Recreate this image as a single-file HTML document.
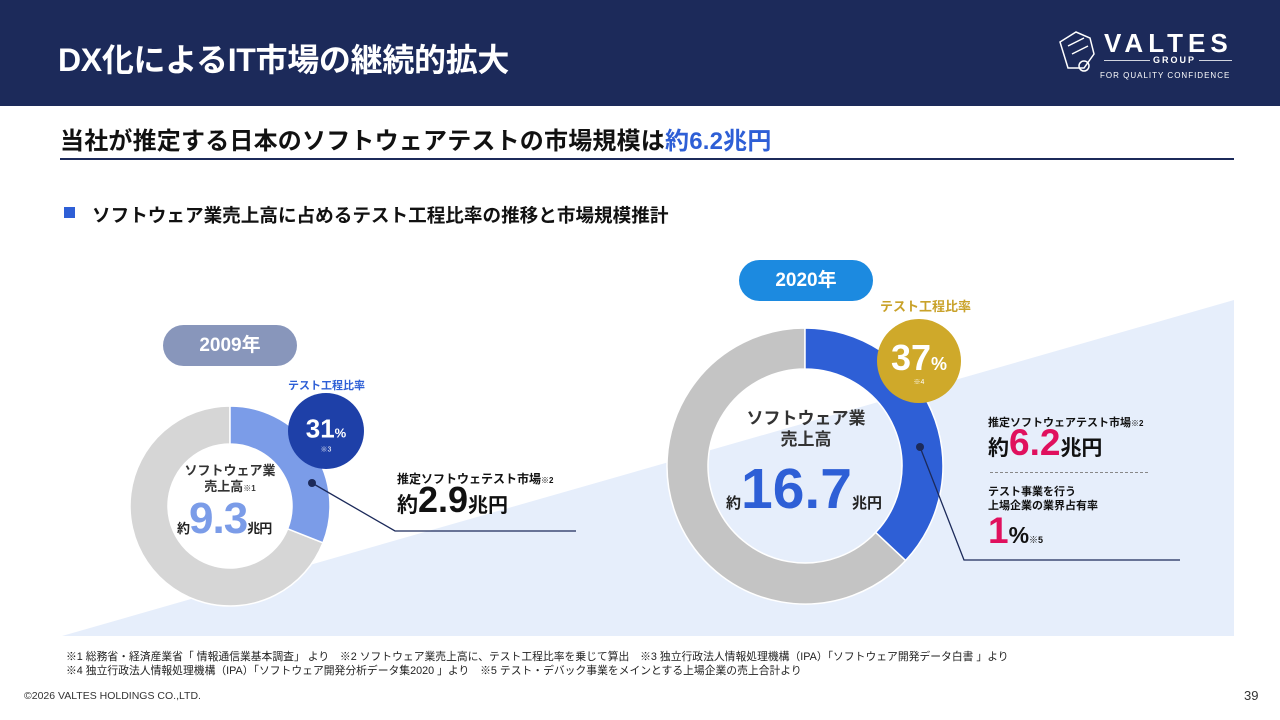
<!DOCTYPE html>
<html><head><meta charset="utf-8">
<style>
*{margin:0;padding:0;box-sizing:border-box}
body{width:1280px;height:720px;overflow:hidden;background:#fff;position:relative;font-family:"Liberation Sans","Noto Sans CJK JP",sans-serif;color:#111}
.abs{position:absolute;white-space:nowrap}
b,.b{font-weight:bold}
</style></head><body>
<div class="abs" style="left:0;top:0;width:1280px;height:106px;background:#1c2a5a"></div>
<div class="abs b" style="left:58px;top:35px;font-size:32px;color:#fff;letter-spacing:-0.3px">DX化によるIT市場の継続的拡大</div>
<div class="abs" style="left:1054px;top:28px;width:180px;height:56px">
  <svg width="44" height="46" style="position:absolute;left:0;top:0"><g fill="none" stroke="#fff" stroke-width="1.5"><path d="M6 14 L22 4 L36 10 L40 26 L30 40 L14 40 Z"/><path d="M14 18 L30 10 M18 26 L34 18"/><circle cx="30" cy="38" r="5"/></g></svg>
  <div class="abs b" style="left:50px;top:0;font-size:26px;color:#fff;letter-spacing:5px">VALTES</div>
  <div class="abs" style="left:50px;top:32px;width:128px;height:1px;background:#fff;opacity:.8"></div>
  <div class="abs b" style="left:96px;top:27px;font-size:9px;color:#fff;letter-spacing:2px;background:#1c2a5a;padding:0 3px">GROUP</div>
  <div class="abs" style="left:46px;top:43px;font-size:8px;color:#fff;letter-spacing:1px">FOR QUALITY CONFIDENCE</div>
</div>
<div class="abs b" style="left:60px;top:121px;font-size:24px;color:#111;letter-spacing:0.2px">当社が推定する日本のソフトウェアテストの市場規模は<span style="color:#2e5fd6">約6.2兆円</span></div>
<div class="abs" style="left:60px;top:158px;width:1174px;height:2px;background:#1c2a5a"></div>
<div class="abs" style="left:64px;top:207px;width:11px;height:11px;background:#2e5fd6"></div>
<div class="abs b" style="left:92px;top:201px;font-size:18.6px">ソフトウェア業売上高に占めるテスト工程比率の推移と市場規模推計</div>

<svg class="abs" id="chart" width="1280" height="720" style="left:0;top:0">
  <polygon points="62,636 1234,300 1234,636" fill="#e6eefb"/>
</svg>

<div class="abs b" style="left:163px;top:325px;width:134px;height:41px;border-radius:21px;background:#8896bb;color:#fff;font-size:19px;text-align:center;line-height:41px">2009年</div>
<div class="abs b" style="left:739px;top:260px;width:134px;height:41px;border-radius:21px;background:#1c8ae0;color:#fff;font-size:19px;text-align:center;line-height:41px">2020年</div>

<div class="abs b" style="left:288px;top:377px;font-size:11px;color:#2e5fd6">テスト工程比率</div>
<div class="abs b" style="left:880px;top:296px;font-size:13px;color:#c9a22a">テスト工程比率</div>

<div class="abs b" style="left:170px;top:463px;width:120px;text-align:center;font-size:13px;color:#333;line-height:16px">ソフトウェア業<br>売上高<span style="font-size:8px">※1</span></div>
<div class="abs b" style="left:177px;top:494px;font-size:44px;color:#7b9ce8;letter-spacing:-1px"><span style="font-size:13px;color:#222">約</span>9.3<span style="font-size:13px;color:#222">兆円</span></div>

<div class="abs b" style="left:726px;top:408px;width:160px;text-align:center;font-size:17px;color:#333;line-height:21px">ソフトウェア業<br>売上高</div>
<div class="abs b" style="left:726px;top:456px;font-size:57px;color:#2e5fd6;letter-spacing:0px"><span style="font-size:15px;color:#222">約</span>16.7<span style="font-size:15px;color:#222">兆円</span></div>

<div class="abs b" style="left:397px;top:470px;font-size:12px">推定ソフトウェテスト市場<span style="font-size:8px">※2</span></div>
<div class="abs b" style="left:397px;top:479px;font-size:36px"><span style="font-size:21px">約</span>2.9<span style="font-size:20px">兆円</span></div>

<div class="abs b" style="left:988px;top:414px;font-size:11px">推定ソフトウェアテスト市場<span style="font-size:8px">※2</span></div>
<div class="abs b" style="left:988px;top:422px;font-size:37px;color:#e0105e"><span style="font-size:21px;color:#111">約</span>6.2<span style="font-size:21px;color:#111">兆円</span></div>
<div class="abs" style="left:990px;top:472px;width:158px;border-top:1px dashed #888"></div>
<div class="abs b" style="left:988px;top:485px;font-size:11px;line-height:14px">テスト事業を行う<br>上場企業の業界占有率</div>
<div class="abs b" style="left:988px;top:510px;font-size:37px;color:#e0105e">1<span style="font-size:23px;color:#111">%</span><span style="font-size:9px;color:#111">※5</span></div>

<div class="abs" style="left:66px;top:650px;font-size:10.8px;line-height:14px;color:#222">※1 総務省・経済産業省「 情報通信業基本調査」 より　※2 ソフトウェア業売上高に、テスト工程比率を乗じて算出　※3 独立行政法人情報処理機構（IPA）「ソフトウェア開発データ白書 」より<br>※4 独立行政法人情報処理機構（IPA）「ソフトウェア開発分析データ集2020 」より　※5 テスト・デバック事業をメインとする上場企業の売上合計より</div>
<div class="abs" style="left:24px;top:690px;font-size:10.5px;color:#333">©2026 VALTES HOLDINGS CO.,LTD.</div>
<div class="abs" style="left:1244px;top:688px;font-size:13px;color:#333">39</div>

<script>
const years = ["2009","2020"];
const salesTrillion = [9.3, 16.7];
const testRatio = [31, 37];
const ratioNote = ["※3","※4"];

const NS = "http://www.w3.org/2000/svg";
const svg = document.getElementById("chart");
const geo = [
  {cx:230, cy:506, r:100, ri:62, seg:"#7b9ce8", rest:"#d6d6d6", badge:{x:326,y:431,r:38,c:"#1e40a8",fs:26}, dot:[312,483], line:[[312,483],[395,531],[576,531]]},
  {cx:805, cy:466, r:138, ri:97, seg:"#2e5fd6", rest:"#c4c4c4", badge:{x:919,y:361,r:42,c:"#cfa92a",fs:36}, dot:[920,447], line:[[920,447],[964,560],[1180,560]]}
];
function angleScale(pct){return pct/100*2*Math.PI;}
function pt(cx,cy,r,a){return [cx+r*Math.sin(a), cy-r*Math.cos(a)];}
function arc(g,a0,a1){
  const [x0,y0]=pt(g.cx,g.cy,g.r,a0),[x1,y1]=pt(g.cx,g.cy,g.r,a1);
  const [x2,y2]=pt(g.cx,g.cy,g.ri,a1),[x3,y3]=pt(g.cx,g.cy,g.ri,a0);
  const lg=(a1-a0)>Math.PI?1:0;
  return `M${x0},${y0} A${g.r},${g.r} 0 ${lg} 1 ${x1},${y1} L${x2},${y2} A${g.ri},${g.ri} 0 ${lg} 0 ${x3},${y3} Z`;
}
years.forEach((y,i)=>{
  const g=geo[i];
  const a=angleScale(testRatio[i]);
  const rest=document.createElementNS(NS,"path");
  rest.setAttribute("d",arc(g,a,2*Math.PI-0.0001));
  rest.setAttribute("fill",g.rest);rest.setAttribute("stroke","#fff");rest.setAttribute("stroke-width","1.5");
  
  
  svg.appendChild(rest);
  const seg=document.createElementNS(NS,"path");
  seg.setAttribute("d",arc(g,0,a));
  seg.setAttribute("fill",g.seg);seg.setAttribute("stroke","#fff");seg.setAttribute("stroke-width","1.5");
  
  
  svg.appendChild(seg);
  const pl=document.createElementNS(NS,"polyline");
  pl.setAttribute("points",g.line.map(p=>p.join(",")).join(" "));
  pl.setAttribute("fill","none");pl.setAttribute("stroke","#1c2a5a");pl.setAttribute("stroke-width","1.3");
  
  
  svg.appendChild(pl);
  const d=document.createElementNS(NS,"circle");
  d.setAttribute("cx",g.dot[0]);d.setAttribute("cy",g.dot[1]);d.setAttribute("r",4);d.setAttribute("fill","#1c2a5a");
  
  
  svg.appendChild(d);
  const b=g.badge;
  const c=document.createElementNS(NS,"circle");
  c.setAttribute("cx",b.x);c.setAttribute("cy",b.y);c.setAttribute("r",b.r);c.setAttribute("fill",b.c);
  
  
  svg.appendChild(c);
  const t=document.createElementNS(NS,"text");
  t.setAttribute("x",b.x);t.setAttribute("y",b.y+b.fs*0.25);t.setAttribute("text-anchor","middle");
  t.setAttribute("fill","#fff");t.setAttribute("font-weight","bold");t.setAttribute("font-size",b.fs);
  t.setAttribute("font-family","Liberation Sans, sans-serif");
  t.innerHTML=testRatio[i]+'<tspan font-size="'+(b.fs*0.5)+'">%</tspan>';
  
  
  svg.appendChild(t);
  const n=document.createElementNS(NS,"text");
  n.setAttribute("x",b.x);n.setAttribute("y",b.y+b.fs*0.25+14);n.setAttribute("text-anchor","middle");
  n.setAttribute("fill","#fff");n.setAttribute("font-size","7");
  n.setAttribute("font-family","Liberation Sans, Noto Sans CJK JP, sans-serif");
  n.textContent=ratioNote[i];
  
  
  svg.appendChild(n);
});
</script>
</body></html>
